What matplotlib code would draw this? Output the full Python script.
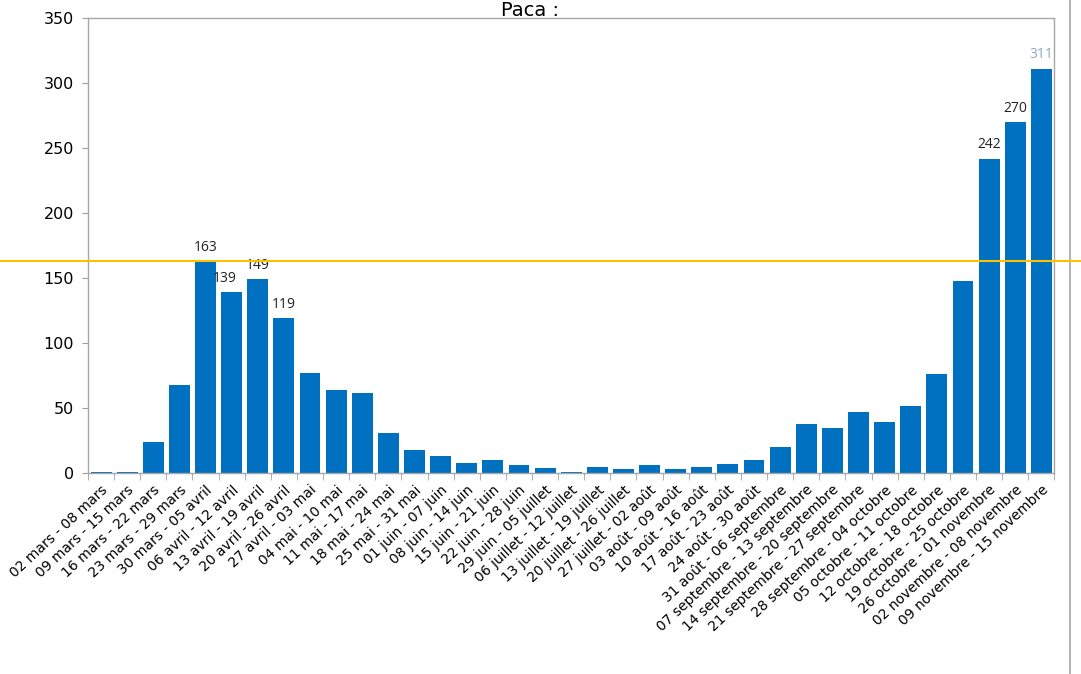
import numpy as np
import matplotlib.pyplot as plt
from matplotlib.lines import Line2D

weeks = ['02 mars - 08 mars', '09 mars - 15 mars', '16 mars - 22 mars', '23 mars - 29 mars',
         '30 mars - 05 avril', '06 avril - 12 avril', '13 avril - 19 avril', '20 avril - 26 avril',
         '27 avril - 03 mai', '04 mai - 10 mai', '11 mai - 17 mai', '18 mai - 24 mai',
         '25 mai - 31 mai', '01 juin - 07 juin', '08 juin - 14 juin', '15 juin - 21 juin',
         '22 juin - 28 juin', '29 juin - 05 juillet', '06 juillet - 12 juillet',
         '13 juillet - 19 juillet', '20 juillet - 26 juillet', '27 juillet - 02 août',
         '03 août - 09 août', '10 août - 16 août', '17 août - 23 août', '24 août - 30 août',
         '31 août - 06 septembre', '07 septembre - 13 septembre', '14 septembre - 20 septembre',
         '21 septembre - 27 septembre', '28 septembre - 04 octobre', '05 octobre - 11 octobre',
         '12 octobre - 18 octobre', '19 octobre - 25 octobre', '26 octobre - 01 novembre',
         '02 novembre - 08 novembre', '09 novembre - 15 novembre']
deaths = [1, 1, 24, 68, 163, 139, 149, 119, 77, 64, 62, 31, 18, 13, 8, 10, 6, 4, 1, 5, 3, 6,
          3, 5, 7, 10, 20, 38, 35, 47, 39, 52, 76, 148, 242, 270, 311]
labelled = {4: '163', 5: '139', 6: '149', 7: '119', 34: '242', 35: '270', 36: '311'}
peak = 163

fig = plt.figure(figsize=(10.81, 6.74), dpi=100)
ax = fig.add_axes([0.0814, 0.298, 0.894, 0.675])
x = np.arange(len(deaths))
ax.bar(x, deaths, width=0.8, color='#0070C0', zorder=2)

for i, txt in labelled.items():
    col = '#8EA9C8' if i == 36 else '#222222'
    dx = -0.25 if i == 5 else 0
    ax.text(i + dx, deaths[i] + 5, txt, ha='center', va='bottom', fontsize=10,
            family='Open Sans', color=col, zorder=4)

ax.set_xlim(-0.5, len(deaths) - 0.5)
ax.set_ylim(0, 350)
ax.set_yticks(np.arange(0, 351, 50))
ax.tick_params(axis='y', labelsize=11.5, color='#A0A0A0', length=4, pad=6)
ax.set_xticks(x)
ax.set_xticklabels(weeks, rotation=43, ha='right', rotation_mode='anchor', fontsize=10)
ax.set_xticks(np.arange(-0.5, len(deaths), 1), minor=True)
ax.tick_params(axis='x', which='major', length=0, pad=7)
ax.tick_params(axis='x', which='minor', length=5, color='#A0A0A0')
for s in ax.spines.values():
    s.set_color('#A6A6A6')
    s.set_linewidth(1)

fig.text(0.49, 0.998, 'Paca :', ha='center', va='top', fontsize=14)

# threshold line across the whole image at the spring peak
y_fig = fig.transFigure.inverted().transform(ax.transData.transform((0, peak)))[1]
fig.add_artist(Line2D([0, 1], [y_fig, y_fig], color='#FFC000', lw=1.5, zorder=5))
fig.add_artist(Line2D([0.9895, 0.9895], [0, 1], color='#A6A6A6', lw=1.2))

plt.savefig('out.png', dpi=100)
